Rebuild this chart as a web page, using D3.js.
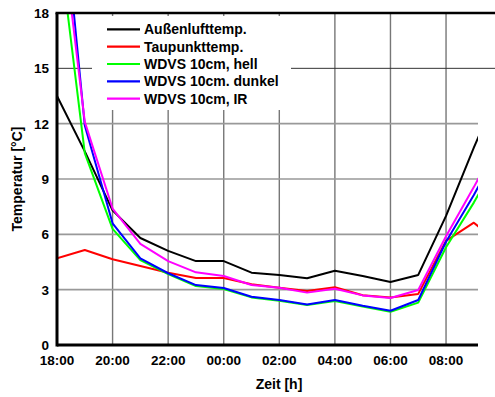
<!DOCTYPE html>
<html>
<head>
<meta charset="utf-8">
<script src="https://cdn.jsdelivr.net/npm/d3@7"></script>
<style>
  body { margin: 0; background: #fff; }
  svg { display: block; font-family: Arial, "Liberation Sans", sans-serif; font-weight: bold; }
</style>
</head>
<body>
<svg id="chart" width="495" height="397"></svg>
<script>
// hours after 18:00 (last point is beyond the visible range, clipped)
const hours = [0, 1, 2, 3, 4, 5, 6, 7, 8, 9, 10, 11, 12, 13, 14, 15, 16];
const outside = [13.5, 10.5, 7.3, 5.8, 5.1, 4.55, 4.55, 3.92, 3.8, 3.62, 4.03, 3.74, 3.42, 3.8, 7.0, 10.7, 14.2];
const dewPoint = [4.7, 5.15, 4.65, 4.28, 3.92, 3.63, 3.63, 3.29, 3.1, 2.93, 3.13, 2.7, 2.57, 2.77, 5.65, 6.63, 5.4];
const wdvsHell = [22.7, 10.4, 6.3, 4.6, 3.85, 3.2, 3.04, 2.58, 2.4, 2.17, 2.39, 2.08, 1.8, 2.3, 5.3, 7.72, 10.4];
const wdvsDunkel = [27.4, 11.9, 6.6, 4.7, 3.89, 3.25, 3.09, 2.62, 2.44, 2.2, 2.44, 2.13, 1.86, 2.44, 5.6, 8.13, 10.9];
const wdvsIR = [24.7, 12.1, 7.4, 5.48, 4.55, 3.94, 3.74, 3.25, 3.1, 2.84, 3.05, 2.69, 2.55, 2.98, 5.9, 8.56, 11.4];

const seriesNames = ["Außenlufttemp.", "Taupunkttemp.", "WDVS 10cm, hell", "WDVS 10cm. dunkel", "WDVS 10cm, IR"];
const seriesColors = ["#000000", "#ff0000", "#00ff00", "#0000ff", "#ff00ff"];
const seriesValues = [outside, dewPoint, wdvsHell, wdvsDunkel, wdvsIR];

const xTicks = [0, 2, 4, 6, 8, 10, 12, 14];
const yTicks = [0, 3, 6, 9, 12, 15, 18];

const plotLeft = 57, plotRight = 478, plotTop = 13, plotBottom = 345;
const xMax = 15.15;

const svg = d3.select("#chart");

const x = d3.scaleLinear().domain([0, xMax]).range([plotLeft, plotRight]);
const y = d3.scaleLinear().domain([0, 18]).range([plotBottom, plotTop]);

const fmtTime = (h) => String((18 + h) % 24).padStart(2, "0") + ":00";

// vertical grid
svg.append("g")
  .selectAll("line")
  .data(xTicks.filter((d) => d > 0))
  .join("line")
  .attr("x1", (d) => x(d))
  .attr("x2", (d) => x(d))
  .attr("y1", plotTop)
  .attr("y2", plotBottom)
  .attr("stroke", "#777")
  .attr("stroke-width", 1.4);

// horizontal grid
svg.append("g")
  .selectAll("line")
  .data([3, 6, 9, 12])
  .join("line")
  .attr("x1", plotLeft)
  .attr("x2", plotRight)
  .attr("y1", (d) => y(d))
  .attr("y2", (d) => y(d))
  .attr("stroke", "#999")
  .attr("stroke-width", 1.6);

// the 15 line is darker and runs to the edge
svg.append("line")
  .attr("x1", plotLeft)
  .attr("x2", 495)
  .attr("y1", y(15))
  .attr("y2", y(15))
  .attr("stroke", "#333")
  .attr("stroke-width", 1);

// legend background hides the grid
svg.append("rect")
  .attr("x", 92)
  .attr("y", 16)
  .attr("width", 199)
  .attr("height", 94)
  .attr("fill", "#fff");

svg.append("clipPath")
  .attr("id", "plotClip")
  .append("rect")
  .attr("x", plotLeft)
  .attr("y", plotTop)
  .attr("width", plotRight - plotLeft)
  .attr("height", plotBottom - plotTop);

const line = d3.line()
  .x((d, i) => x(hours[i]))
  .y((d) => y(d));

svg.append("g")
  .attr("clip-path", "url(#plotClip)")
  .selectAll("path")
  .data(seriesValues)
  .join("path")
  .attr("d", (d) => line(d))
  .attr("fill", "none")
  .attr("stroke", (d, i) => seriesColors[i])
  .attr("stroke-width", 2)
  .attr("stroke-linejoin", "round");

// axes frame
svg.append("line")
  .attr("x1", plotLeft - 1.5).attr("x2", 495)
  .attr("y1", plotTop).attr("y2", plotTop)
  .attr("stroke", "#000").attr("stroke-width", 2.5);
svg.append("line")
  .attr("x1", plotLeft).attr("x2", plotLeft)
  .attr("y1", plotTop).attr("y2", plotBottom + 1.5)
  .attr("stroke", "#000").attr("stroke-width", 3);
svg.append("line")
  .attr("x1", plotLeft).attr("x2", plotRight)
  .attr("y1", plotBottom).attr("y2", plotBottom)
  .attr("stroke", "#000").attr("stroke-width", 3);

// tick labels
svg.append("g")
  .selectAll("text")
  .data(yTicks)
  .join("text")
  .attr("x", 49)
  .attr("y", (d) => y(d))
  .attr("dy", "0.36em")
  .attr("text-anchor", "end")
  .attr("font-size", 13.5)
  .text((d) => d);

svg.append("g")
  .selectAll("text")
  .data(xTicks)
  .join("text")
  .attr("x", (d) => x(d))
  .attr("y", 365)
  .attr("text-anchor", "middle")
  .attr("font-size", 13.5)
  .text((d) => fmtTime(d));

// axis titles
svg.append("text")
  .attr("x", 279)
  .attr("y", 389)
  .attr("text-anchor", "middle")
  .attr("font-size", 14)
  .text("Zeit [h]");

svg.append("text")
  .attr("transform", "translate(22,179) rotate(-90)")
  .attr("text-anchor", "middle")
  .attr("font-size", 14)
  .text("Temperatur [°C]");

// legend
const legend = svg.append("g")
  .selectAll("g")
  .data(seriesNames)
  .join("g")
  .attr("transform", (d, i) => "translate(0," + (29.3 + i * 17.35) + ")");

legend.append("line")
  .attr("x1", 107)
  .attr("x2", 140)
  .attr("stroke", (d, i) => seriesColors[i])
  .attr("stroke-width", 2.2);

legend.append("text")
  .attr("x", 144)
  .attr("dy", "0.36em")
  .attr("font-size", 14)
  .text((d) => d);
</script>
</body>
</html>
